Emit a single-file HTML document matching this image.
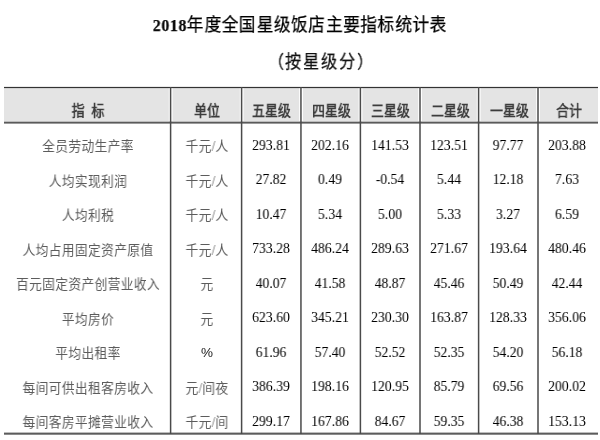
<!DOCTYPE html>
<html lang="zh-CN"><head><meta charset="utf-8"><title>2018年度全国星级饭店主要指标统计表</title>
<style>
html,body{margin:0;padding:0;background:#fff;width:600px;height:440px;overflow:hidden}
body{position:relative;font-family:"Liberation Serif",serif}
svg{position:absolute;left:0;top:0}
.t{will-change:transform;position:absolute;width:600px;height:40px;line-height:40px;text-align:center;white-space:nowrap}
.cj{font-size:13.6px;transform:scaleX(0.935);color:#5c5c5c}
.nu{font-size:14.5px;transform:scaleX(0.945);color:#000}
.hd{font-size:15.0px;transform:scaleX(0.86);font-weight:bold;color:#3c3c3c}
.ti{font-size:18.5px;transform:scaleX(0.9);color:#000}
.ti b{font-weight:bold;letter-spacing:0.75px;font-size:17.5px;position:relative;top:0.3px;color:#0a0a0a}
.ti{letter-spacing:0.28px;-webkit-text-stroke:0.25px #000}
.su{letter-spacing:1.8px;-webkit-text-stroke:0.25px #111;font-size:18.0px;transform:scaleX(0.9);color:#111}
.pc{font-family:"Liberation Sans",sans-serif;font-size:13.5px;color:#1a1a1a}
</style></head><body>
<svg width="600" height="440" viewBox="0 0 600 440"><rect x="4.00" y="88" width="164.80" height="33" fill="#e4e4e4"/><rect x="172.60" y="88" width="67.20" height="33" fill="#e4e4e4"/><rect x="243.60" y="88" width="55.55" height="33" fill="#e4e4e4"/><rect x="302.95" y="88" width="55.65" height="33" fill="#e4e4e4"/><rect x="362.40" y="88" width="55.80" height="33" fill="#e4e4e4"/><rect x="422.00" y="88" width="54.80" height="33" fill="#e4e4e4"/><rect x="480.60" y="88" width="55.60" height="33" fill="#e4e4e4"/><rect x="540.00" y="88" width="58.00" height="33" fill="#e4e4e4"/><rect x="4" y="86.9" width="594" height="1.2" fill="#333"/><rect x="4" y="121.6" width="594" height="2.0" fill="#5a5a5a"/><rect x="4" y="432.6" width="594" height="2.1" fill="#5c5c5c"/><rect x="169.85" y="87" width="1.5" height="347" fill="#4a4a4a"/><rect x="240.85" y="87" width="1.5" height="347" fill="#4a4a4a"/><rect x="300.20" y="87" width="1.5" height="347" fill="#4a4a4a"/><rect x="359.65" y="87" width="1.5" height="347" fill="#4a4a4a"/><rect x="419.25" y="87" width="1.5" height="347" fill="#4a4a4a"/><rect x="477.85" y="87" width="1.5" height="347" fill="#4a4a4a"/><rect x="537.25" y="87" width="1.5" height="347" fill="#4a4a4a"/></svg>
<div class="t ti" style="left:0.00px;top:4.70px"><b class="n">2018</b>年度全国星级饭店主要指标统计表</div>
<div class="t su" style="left:20.50px;top:42.20px">（按星级分）</div>
<div class="t hd" style="left:-212.20px;top:90.60px">指&#8194;标</div>
<div class="t hd" style="left:-93.00px;top:90.60px">单位</div>
<div class="t hd" style="left:-28.73px;top:90.60px">五星级</div>
<div class="t hd" style="left:30.77px;top:90.60px">四星级</div>
<div class="t hd" style="left:90.10px;top:90.60px">三星级</div>
<div class="t hd" style="left:150.30px;top:90.60px">二星级</div>
<div class="t hd" style="left:208.80px;top:90.60px">一星级</div>
<div class="t hd" style="left:268.90px;top:90.60px">合计</div>
<div class="t cj" style="left:-212.20px;top:127.20px">全员劳动生产率</div>
<div class="t cj" style="left:-93.00px;top:127.20px">千元/人</div>
<div class="t nu" style="left:-28.73px;top:124.70px">293.81</div>
<div class="t nu" style="left:30.07px;top:124.70px">202.16</div>
<div class="t nu" style="left:89.50px;top:124.70px">141.53</div>
<div class="t nu" style="left:149.30px;top:124.70px">123.51</div>
<div class="t nu" style="left:208.30px;top:124.70px">97.77</div>
<div class="t nu" style="left:267.40px;top:124.70px">203.88</div>
<div class="t cj" style="left:-212.20px;top:161.70px">人均实现利润</div>
<div class="t cj" style="left:-93.00px;top:161.70px">千元/人</div>
<div class="t nu" style="left:-28.73px;top:159.20px">27.82</div>
<div class="t nu" style="left:30.07px;top:159.20px">0.49</div>
<div class="t nu" style="left:89.50px;top:159.20px">-0.54</div>
<div class="t nu" style="left:149.30px;top:159.20px">5.44</div>
<div class="t nu" style="left:208.30px;top:159.20px">12.18</div>
<div class="t nu" style="left:267.40px;top:159.20px">7.63</div>
<div class="t cj" style="left:-212.20px;top:196.20px">人均利税</div>
<div class="t cj" style="left:-93.00px;top:196.20px">千元/人</div>
<div class="t nu" style="left:-28.73px;top:193.70px">10.47</div>
<div class="t nu" style="left:30.07px;top:193.70px">5.34</div>
<div class="t nu" style="left:89.50px;top:193.70px">5.00</div>
<div class="t nu" style="left:149.30px;top:193.70px">5.33</div>
<div class="t nu" style="left:208.30px;top:193.70px">3.27</div>
<div class="t nu" style="left:267.40px;top:193.70px">6.59</div>
<div class="t cj" style="left:-212.20px;top:230.70px">人均占用固定资产原值</div>
<div class="t cj" style="left:-93.00px;top:230.70px">千元/人</div>
<div class="t nu" style="left:-28.73px;top:228.20px">733.28</div>
<div class="t nu" style="left:30.07px;top:228.20px">486.24</div>
<div class="t nu" style="left:89.50px;top:228.20px">289.63</div>
<div class="t nu" style="left:149.30px;top:228.20px">271.67</div>
<div class="t nu" style="left:208.30px;top:228.20px">193.64</div>
<div class="t nu" style="left:267.40px;top:228.20px">480.46</div>
<div class="t cj" style="left:-212.20px;top:265.20px">百元固定资产创营业收入</div>
<div class="t cj" style="left:-93.00px;top:265.20px">元</div>
<div class="t nu" style="left:-28.73px;top:262.70px">40.07</div>
<div class="t nu" style="left:30.07px;top:262.70px">41.58</div>
<div class="t nu" style="left:89.50px;top:262.70px">48.87</div>
<div class="t nu" style="left:149.30px;top:262.70px">45.46</div>
<div class="t nu" style="left:208.30px;top:262.70px">50.49</div>
<div class="t nu" style="left:267.40px;top:262.70px">42.44</div>
<div class="t cj" style="left:-212.20px;top:299.70px">平均房价</div>
<div class="t cj" style="left:-93.00px;top:299.70px">元</div>
<div class="t nu" style="left:-28.73px;top:297.20px">623.60</div>
<div class="t nu" style="left:30.07px;top:297.20px">345.21</div>
<div class="t nu" style="left:89.50px;top:297.20px">230.30</div>
<div class="t nu" style="left:149.30px;top:297.20px">163.87</div>
<div class="t nu" style="left:208.30px;top:297.20px">128.33</div>
<div class="t nu" style="left:267.40px;top:297.20px">356.06</div>
<div class="t cj" style="left:-212.20px;top:334.20px">平均出租率</div>
<div class="t pc" style="left:-93.00px;top:333.20px">%</div>
<div class="t nu" style="left:-28.73px;top:331.70px">61.96</div>
<div class="t nu" style="left:30.07px;top:331.70px">57.40</div>
<div class="t nu" style="left:89.50px;top:331.70px">52.52</div>
<div class="t nu" style="left:149.30px;top:331.70px">52.35</div>
<div class="t nu" style="left:208.30px;top:331.70px">54.20</div>
<div class="t nu" style="left:267.40px;top:331.70px">56.18</div>
<div class="t cj" style="left:-212.20px;top:368.70px">每间可供出租客房收入</div>
<div class="t cj" style="left:-93.00px;top:368.70px">元/间夜</div>
<div class="t nu" style="left:-28.73px;top:366.20px">386.39</div>
<div class="t nu" style="left:30.07px;top:366.20px">198.16</div>
<div class="t nu" style="left:89.50px;top:366.20px">120.95</div>
<div class="t nu" style="left:149.30px;top:366.20px">85.79</div>
<div class="t nu" style="left:208.30px;top:366.20px">69.56</div>
<div class="t nu" style="left:267.40px;top:366.20px">200.02</div>
<div class="t cj" style="left:-212.20px;top:403.20px">每间客房平摊营业收入</div>
<div class="t cj" style="left:-93.00px;top:403.20px">千元/间</div>
<div class="t nu" style="left:-28.73px;top:400.70px">299.17</div>
<div class="t nu" style="left:30.07px;top:400.70px">167.86</div>
<div class="t nu" style="left:89.50px;top:400.70px">84.67</div>
<div class="t nu" style="left:149.30px;top:400.70px">59.35</div>
<div class="t nu" style="left:208.30px;top:400.70px">46.38</div>
<div class="t nu" style="left:267.40px;top:400.70px">153.13</div>
</body></html>
